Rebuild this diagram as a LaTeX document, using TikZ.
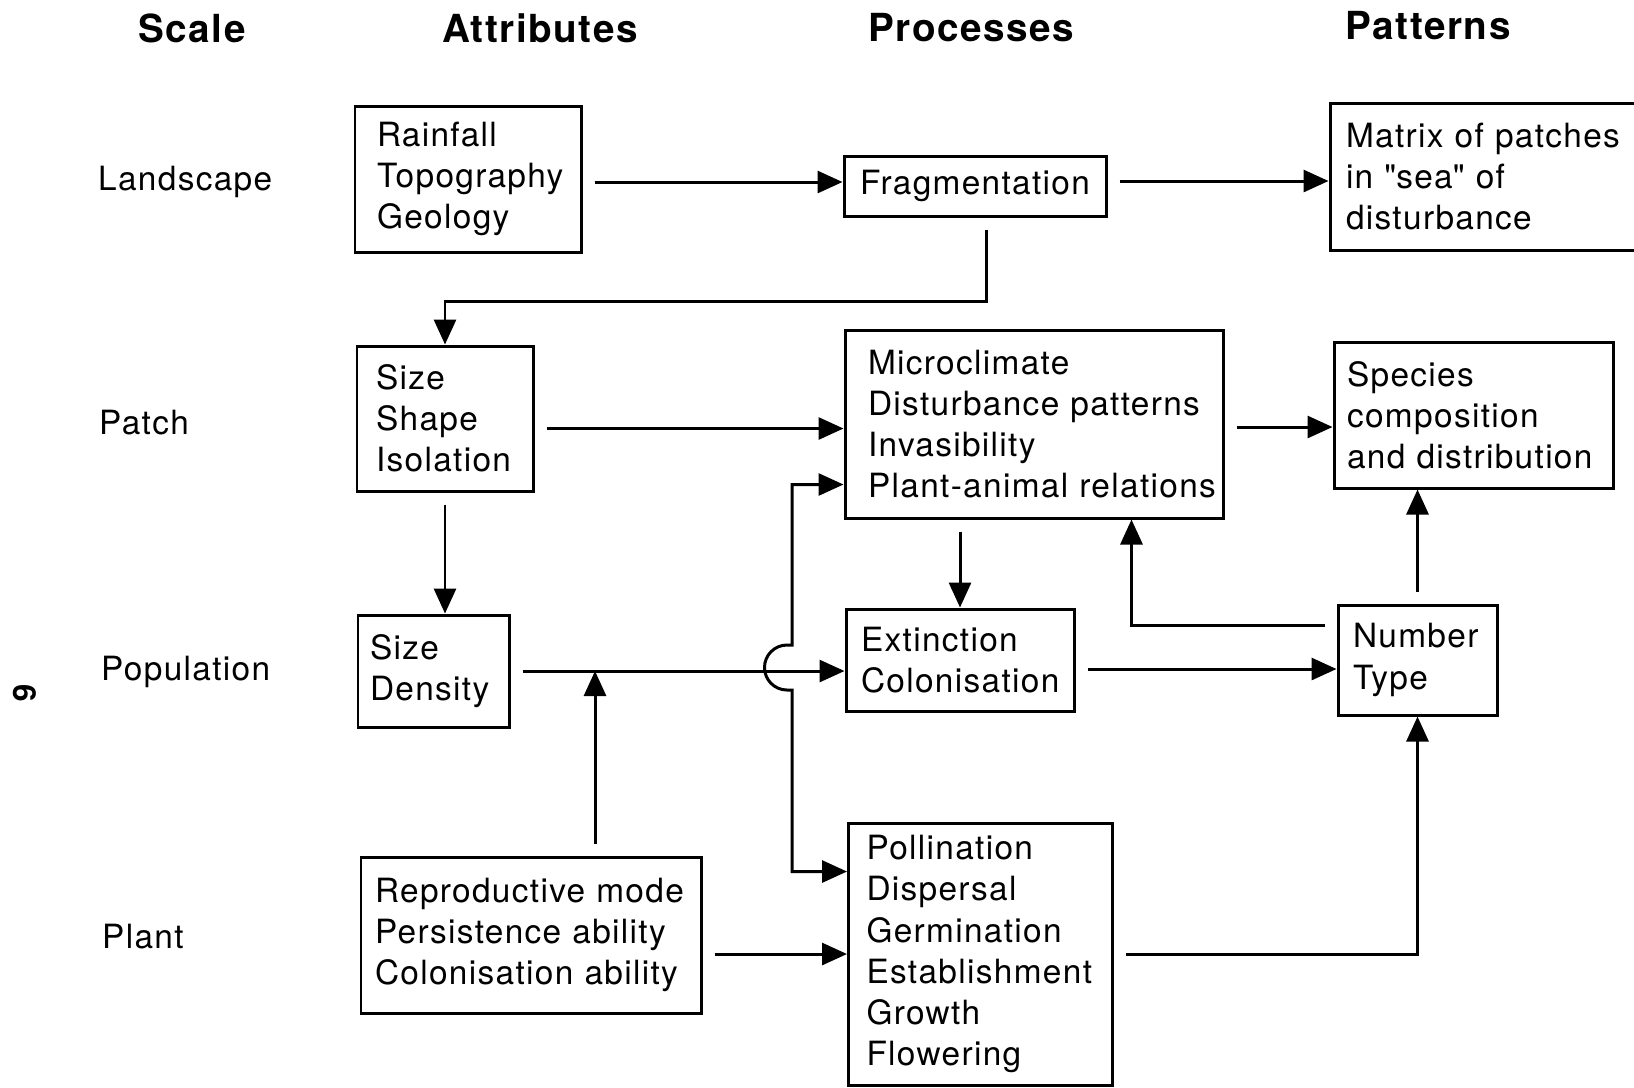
\documentclass[tikz,border=0pt]{standalone}
\usepackage{fontspec}
\setmainfont{TeX Gyre Heros}[LetterSpace=4]
\usetikzlibrary{arrows.meta}
\hyphenpenalty=10000
\exhyphenpenalty=10000

\begin{document}
\begin{tikzpicture}[line width=0.85pt,
  box/.style={draw, align=left, inner ysep=0pt, font=\fontsize{9.5}{11.7}\selectfont},
  hdr/.style={font=\fontsize{11}{13}\selectfont\bfseries},
  lbl/.style={anchor=west, font=\fontsize{9.5}{11.7}\selectfont},
  arr/.style={-{Triangle[length=2.5mm,width=2.2mm]}, shorten <=1.2mm},
  ]
  \useasboundingbox (0,0) rectangle (16.34,-10.87);
  \clip (0,0) rectangle (16.34,-10.87);

  % column heads
  \node[hdr] (hscale) at (1.92,-0.28) {Scale};
  \node[hdr] (hattr) at (5.40,-0.28) {Attributes};
  \node[hdr] (hproc) at (9.71,-0.28) {Processes};
  \node[hdr] (hpatt) at (14.28,-0.26) {Patterns};

  % row labels
  \node[lbl] (rland) at (0.85,-1.82) {Landscape};
  \node[lbl] (rpatch) at (0.86,-4.23) {Patch};
  \node[lbl] (rpop) at (0.88,-6.72) {Population};
  \node[lbl] (rplant) at (0.89,-9.37) {Plant};
  \node[rotate=-90, font=\fontsize{9}{10}\selectfont\bfseries] (pnum) at (0.25,-6.93) {6};

  % boxes
  \node[box, text width=1.82cm, inner xsep=2.2mm, minimum height=1.46cm] (rain) at (4.68,-1.79)
    {Rainfall\\Topography\\Geology};
  \node[box, text width=2.30cm, inner xsep=1.6mm, minimum height=0.60cm] (frag) at (9.75,-1.86)
    {Fragmentation};
  \node[box, text width=2.88cm, inner xsep=1.6mm, minimum height=1.47cm] (matrix) at (14.90,-1.765)
    {Matrix~of~patches\\in~\textquotedbl sea\textquotedbl~of\\disturbance};
  \node[box, text width=1.38cm, inner xsep=1.9mm, minimum height=1.45cm] (shape) at (4.45,-4.185)
    {Size\\Shape\\Isolation};
  \node[box, text width=3.32cm, inner xsep=2.3mm, minimum height=1.88cm] (micro) at (10.34,-4.24)
    {Microclimate\\Disturbance~patterns\\Invasibility\\Plant-animal~relations};
  \node[box, text width=2.53cm, inner xsep=1.3mm, minimum height=1.46cm] (species) at (14.735,-4.15)
    {Species\\composition\\and~distribution};
  \node[box, text width=1.27cm, inner xsep=1.2mm, minimum height=1.12cm] (dens) at (4.335,-6.71)
    {Size\\Density};
  \node[box, text width=1.98cm, inner xsep=1.5mm, minimum height=1.02cm] (ext) at (9.60,-6.60)
    {Extinction\\Colonisation};
  \node[box, text width=1.29cm, inner xsep=1.5mm, minimum height=1.10cm] (num) at (14.175,-6.60)
    {Number\\Type};
  \node[box, text width=3.12cm, inner xsep=1.4mm, minimum height=1.56cm] (repro) at (5.31,-9.35)
    {Reproductive~mode\\Persistence~ability\\Colonisation~ability};
  \node[box, text width=2.28cm, inner xsep=1.8mm, minimum height=2.62cm] (poll) at (9.805,-9.54)
    {Pollination\\Dispersal\\Germination\\Establishment\\Growth\\Flowering};

  % connectors
  \draw[arr] ([yshift=-0.3mm]rain.east) coordinate (re) -- (re -| frag.west);
  \draw[arr] ([yshift=0.5mm]frag.east) coordinate (fe) -- (fe -| matrix.west);
  \draw[arr] ([xshift=1.1mm]frag.south) -- ++(0,-0.84) -| (shape.north);
  \draw[arr] ([yshift=-1mm]shape.east) coordinate (se) -- (se -| micro.west);
  \draw[arr] ([yshift=-0.3mm]micro.east) coordinate (me) -- (me -| species.west);
  \draw[arr] (shape.south) -- (shape.south |- dens.north);
  \draw[arr] (ext.north |- micro.south) -- (ext.north);
  \draw[arr] (dens.east) -- (dens.east -| ext.west);
  \draw[arr] ([xshift=6.4mm]repro.north) coordinate (ru) -- (ru |- dens.east);
  \draw[arr] ([yshift=-0.9mm]ext.east) coordinate (ee) -- (ee -| num.west);
  \draw[arr] ([yshift=-2.2mm]num.north west) -| ([xshift=-9.3mm]micro.south east);
  \draw[arr] (num.north) -- (num.north |- species.south);
  \draw[arr] (poll.east) -| (num.south);
  \draw[arr] (repro.east |- poll.west) -- (poll.west);
  \draw[{Triangle[length=2.5mm,width=2.2mm]}-{Triangle[length=2.5mm,width=2.2mm]}]
    ([yshift=3.5mm]micro.south west) -| (7.92,-6.45) -- ++(-0.05,0)
    arc[start angle=90, end angle=270, radius=0.225] -- ++(0.05,0)
    |- ([yshift=-5mm]poll.north west);
\end{tikzpicture}
\end{document}
